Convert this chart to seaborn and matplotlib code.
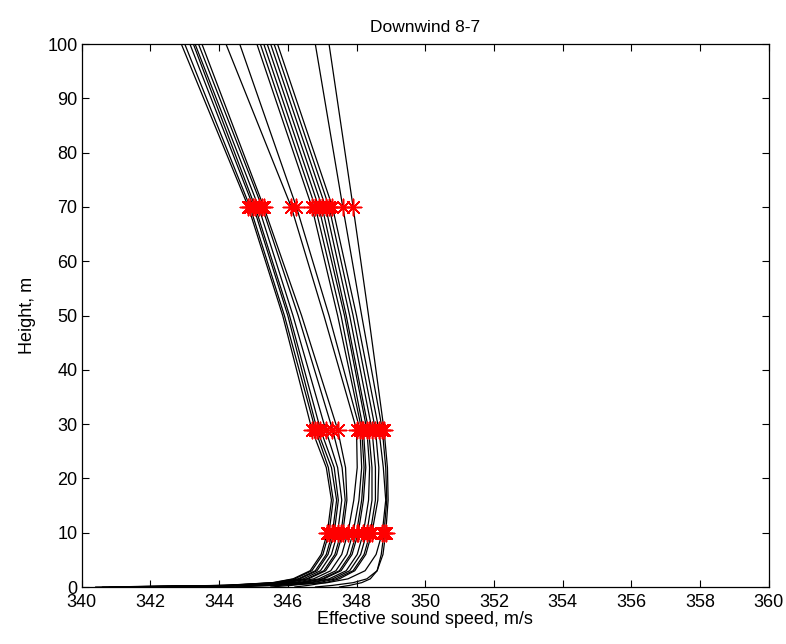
import pandas as pd
import seaborn as sns
import matplotlib.pyplot as plt

# heights (m) at which each speed profile is read
heights = [0, 0.3, 0.8, 1.5, 3, 6, 10, 16, 22, 29, 50, 70, 100]

# effective sound speed profiles, m/s
p01 = [340.6, 344.15, 345.55, 346.15, 346.65, 346.97, 347.15, 347.27, 347.12, 346.70, 345.85, 344.85, 342.90]
p02 = [341.0, 344.20, 345.60, 346.20, 346.70, 347.02, 347.20, 347.32, 347.18, 346.80, 345.90, 344.90, 343.00]
p03 = [340.8, 344.30, 345.70, 346.30, 346.80, 347.12, 347.30, 347.42, 347.27, 346.85, 346.00, 345.00, 343.15]
p04 = [341.5, 344.35, 345.75, 346.35, 346.85, 347.17, 347.35, 347.47, 347.35, 346.95, 346.05, 345.05, 343.25]
p05 = [341.2, 344.45, 345.85, 346.45, 346.95, 347.27, 347.45, 347.57, 347.45, 347.10, 346.15, 345.15, 343.30]
p06 = [342.0, 344.60, 345.95, 346.55, 347.05, 347.37, 347.55, 347.67, 347.58, 347.30, 346.30, 345.25, 343.40]
p07 = [340.4, 344.60, 346.00, 346.60, 347.10, 347.42, 347.60, 347.72, 347.68, 347.45, 346.40, 345.30, 343.50]
p08 = [341.8, 344.75, 346.15, 346.75, 347.25, 347.57, 347.75, 347.92, 348.02, 348.00, 347.05, 346.10, 344.20]
p09 = [341.3, 344.90, 346.30, 346.90, 347.40, 347.72, 347.90, 348.07, 348.15, 348.10, 347.20, 346.25, 344.60]
p10 = [342.5, 345.00, 346.40, 347.00, 347.50, 347.82, 348.00, 348.15, 348.22, 348.15, 347.45, 346.70, 345.10]
p11 = [343.0, 345.10, 346.45, 347.05, 347.55, 347.87, 348.05, 348.20, 348.27, 348.20, 347.55, 346.80, 345.20]
p12 = [341.6, 345.20, 346.60, 347.20, 347.70, 348.02, 348.20, 348.35, 348.38, 348.30, 347.65, 346.90, 345.30]
p13 = [344.5, 345.60, 346.70, 347.30, 347.80, 348.12, 348.30, 348.45, 348.45, 348.35, 347.70, 347.00, 345.40]
p14 = [345.5, 346.10, 346.90, 347.40, 347.90, 348.22, 348.40, 348.55, 348.55, 348.45, 347.80, 347.10, 345.50]
p15 = [346.2, 346.60, 347.10, 347.50, 347.95, 348.27, 348.45, 348.62, 348.65, 348.55, 347.90, 347.20, 345.60]
p16 = [342.2, 345.75, 347.15, 347.75, 348.25, 348.57, 348.75, 348.85, 348.78, 348.65, 348.00, 347.30, 345.70]
p17 = [347.5, 347.80, 348.15, 348.40, 348.60, 348.72, 348.80, 348.88, 348.85, 348.75, 348.15, 347.60, 346.80]
p18 = [346.8, 347.30, 347.90, 348.30, 348.60, 348.77, 348.85, 348.92, 348.90, 348.80, 348.35, 347.90, 347.20]

profiles = [p01, p02, p03, p04, p05, p06, p07, p08, p09,
            p10, p11, p12, p13, p14, p15, p16, p17, p18]

# measurement heights marked with red stars
mark_heights = [10, 29, 70]

rows = []
for i, prof in enumerate(profiles):
    for h, c in zip(heights, prof):
        rows.append({"profile": i, "height": h, "speed": c})
df = pd.DataFrame(rows)
marks = df[df["height"].isin(mark_heights)]

sns.set_style("ticks")
plt.rcParams["font.family"] = ["Liberation Sans", "DejaVu Sans"]
plt.rcParams["text.color"] = "black"
plt.rcParams["axes.labelcolor"] = "black"

fig = plt.figure(figsize=(7.86, 6.44), dpi=100)
ax = fig.add_axes([0.104, 0.0885, 0.874, 0.843])

sns.lineplot(data=df, x="speed", y="height", units="profile", estimator=None,
             sort=False, color="black", linewidth=0.9, ax=ax)
sns.scatterplot(data=marks, x="speed", y="height", marker=(8, 2, 0), s=140,
                color="red", edgecolor="red", linewidth=1.1, zorder=3, ax=ax)

ax.set_xlim(340, 360)
ax.set_ylim(0, 100)
ax.set_xticks(range(340, 361, 2))
ax.set_yticks(range(0, 101, 10))
ax.tick_params(direction="in", top=True, right=True, length=5, width=0.8,
               labelsize=13, pad=3, colors="black")
ax.tick_params(axis="x", pad=5)
for s in ax.spines.values():
    s.set_linewidth(0.9)
    s.set_color("black")

ax.set_title("Downwind 8-7", fontsize=12.5, pad=9, color="black")
ax.set_xlabel("Effective sound speed, m/s", fontsize=13, labelpad=0)
ax.set_ylabel("Height, m", fontsize=13, labelpad=8)

fig.savefig("out.png", dpi=100, facecolor="white")
